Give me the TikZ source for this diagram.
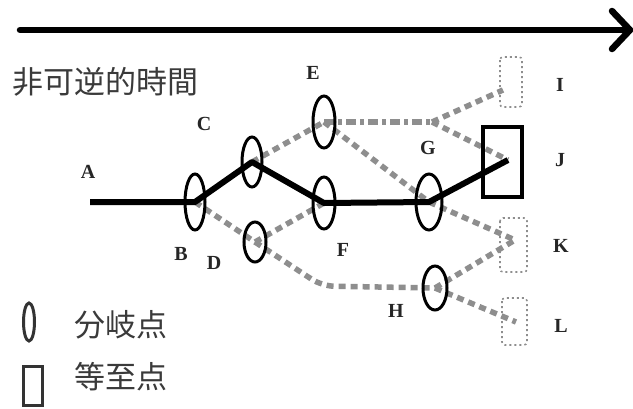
\documentclass[tikz,border=0pt]{standalone}
\usepackage{fontspec}
\setmainfont{Liberation Serif}
\newfontfamily\cjk{Noto Sans CJK JP}
\usetikzlibrary{arrows.meta}
\definecolor{dgray}{HTML}{8E8E8E}
\definecolor{txtgray}{HTML}{3A3A3A}
\begin{document}
\begin{tikzpicture}[x=1pt,y=-1pt,
  ell/.style={line width=3pt,black},
  lbl/.style={font=\fontsize{20}{20}\selectfont\bfseries,text=black!85,inner sep=0pt},
  main/.style={line width=6pt,black,line join=round},
  alt/.style={line width=5.5pt,dgray,dash pattern=on 7pt off 5pt},
  altdd/.style={line width=5.5pt,dgray,dash pattern=on 10pt off 4pt on 4pt off 4pt},
  ghost/.style={draw=dgray,line width=1.6pt,dash pattern=on 2pt off 3pt,rounded corners=3pt},
  cjktext/.style={font=\cjk\fontsize{31}{31}\selectfont,text=txtgray,inner sep=0pt,anchor=west}
]
\useasboundingbox (0,0) rectangle (633,408);
% time arrow
\coordinate (t0) at (20,30);
\coordinate (t1) at (630,30);
\draw[line width=6.5pt,line cap=round,line join=round] (t0) -- (t1);
\draw[line width=6.5pt,line cap=round,line join=round] (612,11) -- (t1) -- (612,49);
\node[cjktext] (title) at (12,82) {非可逆的時間};

% coordinates (centres of branching points)
\coordinate (B) at (195,202);
\coordinate (C) at (252,162);
\coordinate (D) at (255,242);
\coordinate (E) at (324,122);
\coordinate (F) at (324,203);
\coordinate (G) at (429,202);
\coordinate (H) at (435,288);
\coordinate (start) at (90,202);
\coordinate (split) at (432,122);
\coordinate (Ie) at (503,90);
\coordinate (Jtip) at (508,160);
\coordinate (Ke) at (515,240);
\coordinate (Le) at (516,322);
\coordinate (bend) at (322,286);

% ghost (dotted) end states
\draw[ghost] (500,57) rectangle (522,107);
\draw[ghost] (500,218) rectangle (527,272);
\draw[ghost] (502,298) rectangle (527,345);

% gray alternative paths
\draw[alt] (C) -- (E);
\draw[alt] (B) -- (D) -- (F);
\draw[alt,rounded corners=12pt] (D) -- (bend) -- (H);
\draw[altdd] (E) -- (split);
\draw[alt] (split) -- (Ie);
\draw[alt] (split) -- (Jtip);
\draw[alt] (E) -- (G);
\draw[alt] (G) -- (Ke);
\draw[alt] (H) -- (Ke);
\draw[alt] (H) -- (Le);

% equifinality point J
\draw[line width=4pt] (483,127) rectangle (522,197);

% actual path
\draw[main] (start) -- (B) -- (C) -- (F) -- (G) -- (Jtip);

% branching ellipses
\draw[ell] (B) ellipse [x radius=10,y radius=28];
\draw[ell] (C) ellipse [x radius=10,y radius=25];
\draw[ell] (D) ellipse [x radius=11,y radius=20];
\draw[ell] (E) ellipse [x radius=11,y radius=26];
\draw[ell] (F) ellipse [x radius=11,y radius=26];
\draw[ell] (G) ellipse [x radius=13,y radius=28];
\draw[ell] (H) ellipse [x radius=12,y radius=22];

% labels
\node[lbl] (lA) at (88,172) {A};
\node[lbl] (lB) at (181,254) {B};
\node[lbl] (lC) at (204,124) {C};
\node[lbl] (lD) at (214,263) {D};
\node[lbl] (lE) at (313,73) {E};
\node[lbl] (lF) at (343,250) {F};
\node[lbl] (lG) at (428,148) {G};
\node[lbl] (lH) at (396,311) {H};
\node[lbl] (lI) at (560,85) {I};
\node[lbl] (lJ) at (560,160) {J};
\node[lbl] (lK) at (561,246) {K};
\node[lbl] (lL) at (561,326) {L};

% legend
\draw[line width=3pt,black!80] (29,322) ellipse [x radius=5.5,y radius=19];
\node[cjktext] (leg1) at (74,325) {分岐点};
\draw[line width=3pt,black!80] (23,366) rectangle (42,405);
\node[cjktext] (leg2) at (74,377) {等至点};
\end{tikzpicture}
\end{document}
